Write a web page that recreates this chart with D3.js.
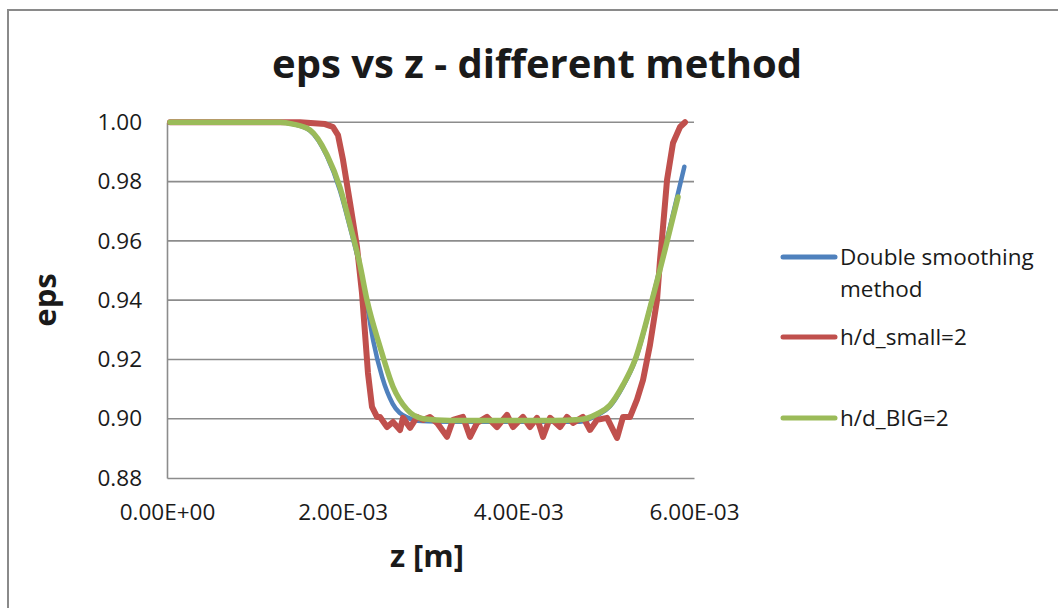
<!DOCTYPE html>
<html>
<head>
<meta charset="utf-8">
<script src="https://cdn.jsdelivr.net/npm/d3@7"></script>
<style>
  html, body { margin: 0; padding: 0; background: #fff; }
  svg { display: block; }
  text { font-family: "Open Sans", "Noto Sans", sans-serif; fill: #1a1a1a; }
</style>
</head>
<body>
<script>
// z positions are in millimetres (scaled to metres when plotted); eps is dimensionless
const blueZ   = [0.034, 0.717, 1.287, 1.435, 1.628, 1.822, 1.970, 2.084, 2.197, 2.277, 2.350, 2.450, 2.570, 2.730, 2.900, 3.200, 3.600, 4.000, 4.400, 4.700, 4.900, 5.044, 5.192, 5.328, 5.522, 5.700, 5.890];
const blueEps = [1.000, 1.000, 1.000, 0.9994, 0.9972, 0.9885, 0.977, 0.9645, 0.951, 0.9385, 0.926, 0.914, 0.905, 0.9005, 0.8992, 0.899, 0.899, 0.899, 0.899, 0.899, 0.9012, 0.9042, 0.911, 0.9195, 0.940, 0.9615, 0.985];

const redZ   = [0.034, 1.514, 1.799, 1.890, 1.947, 2.004, 2.084, 2.163, 2.220, 2.254, 2.288, 2.334, 2.391,
                2.425, 2.505, 2.573, 2.653, 2.687, 2.767, 2.847, 2.915, 2.994, 3.074, 3.188, 3.256, 3.370, 3.450,
                3.530, 3.643, 3.757, 3.871, 3.939, 4.053, 4.133, 4.213, 4.281, 4.361, 4.475, 4.554, 4.623, 4.736,
                4.816, 4.896, 5.010, 5.124, 5.192, 5.272, 5.351, 5.420, 5.499, 5.579, 5.613, 5.647, 5.693, 5.761, 5.841, 5.898];
const redEps = [1.000, 1.000, 0.9994, 0.9984, 0.9957, 0.9873, 0.9728, 0.958, 0.9424, 0.929, 0.9154, 0.904, 0.9006,
                0.9006, 0.8972, 0.8989, 0.8962, 0.9003, 0.8969, 0.9006, 0.8996, 0.9006, 0.8986, 0.8939, 0.8996, 0.9006, 0.8939,
                0.8986, 0.9006, 0.8972, 0.9013, 0.8972, 0.9006, 0.8972, 0.9003, 0.8939, 0.9003, 0.8972, 0.9006, 0.8986, 0.9006,
                0.8962, 0.8996, 0.9003, 0.8935, 0.9006, 0.9006, 0.9064, 0.9131, 0.9249, 0.940, 0.9535, 0.9646, 0.9805, 0.993, 0.9984, 1.000];

const greenZ   = [0.034, 0.717, 1.287, 1.435, 1.628, 1.822, 1.970, 2.084, 2.197, 2.277, 2.425, 2.573, 2.733, 2.915, 3.222, 3.600, 4.000, 4.400, 4.702, 4.896, 5.044, 5.192, 5.328, 5.522, 5.670, 5.818];
const greenEps = [1.000, 1.000, 1.000, 0.9994, 0.9974, 0.989, 0.978, 0.9654, 0.9519, 0.940, 0.9243, 0.9108, 0.9031, 0.9000, 0.8994, 0.8994, 0.8994, 0.8994, 0.8997, 0.9016, 0.9046, 0.9114, 0.9198, 0.940, 0.957, 0.9748];

const seriesNames  = ["Double smoothing method", "h/d_small=2", "h/d_BIG=2"];
const seriesColors = ["#4F81BD", "#C0504D", "#9BBB59"];

const xTicks      = [0, 0.002, 0.004, 0.006];
const xTickLabels = ["0.00E+00", "2.00E-03", "4.00E-03", "6.00E-03"];
const yTicks      = [0.88, 0.90, 0.92, 0.94, 0.96, 0.98, 1.00];

const W = 1058, H = 608;
const plot = { left: 167, right: 694, top: 122.3, bottom: 478 };

const svg = d3.select("body").append("svg").attr("width", W).attr("height", H);

// chart frame
svg.append("rect")
  .attr("x", 8).attr("y", 10).attr("width", W + 20).attr("height", H + 20)
  .attr("fill", "none").attr("stroke", "#8a8a8a").attr("stroke-width", 2);

const x = d3.scaleLinear().domain([0, 0.006]).range([plot.left, plot.right]);
const y = d3.scaleLinear().domain([0.88, 1.00]).range([plot.bottom, plot.top]);

// horizontal gridlines
svg.append("g").selectAll("line").data(yTicks.filter(t => t > 0.88)).join("line")
  .attr("x1", plot.left).attr("x2", plot.right)
  .attr("y1", d => y(d)).attr("y2", d => y(d))
  .attr("stroke", "#8c8c8c").attr("stroke-width", 1.6);

// y axis
const yAxis = svg.append("g").attr("transform", `translate(${plot.left},0)`)
  .call(d3.axisLeft(y).tickValues(yTicks).tickFormat(d3.format(".2f")).tickSize(0).tickPadding(25));
yAxis.select(".domain").attr("stroke", "#8c8c8c").attr("stroke-width", 1.6);
yAxis.selectAll("text").attr("font-size", 22.5).attr("fill", "#1a1a1a")
  .style("font-family", '"Open Sans", sans-serif');

// x axis
const xAxis = svg.append("g").attr("transform", `translate(0,${plot.bottom})`)
  .call(d3.axisBottom(x).tickValues(xTicks).tickFormat((d, i) => xTickLabels[i]).tickSize(0).tickPadding(26));
xAxis.select(".domain").attr("stroke", "#8c8c8c").attr("stroke-width", 1.6);
xAxis.selectAll("text").attr("font-size", 22.5).attr("fill", "#1a1a1a")
  .style("font-family", '"Open Sans", sans-serif');

// series lines
const line = d3.line().x(d => x(d[0] * 1e-3)).y(d => y(d[1]));
const series = [
  d3.zip(blueZ, blueEps),
  d3.zip(redZ, redEps),
  d3.zip(greenZ, greenEps)
];
const curves = [d3.curveMonotoneX, d3.curveLinear, d3.curveMonotoneX];
const widths = [4.5, 6, 5.5];
series.forEach((s, i) => {
  svg.append("path").datum(s)
    .attr("d", line.curve(curves[i])(s))
    .attr("fill", "none")
    .attr("stroke", seriesColors[i])
    .attr("stroke-width", widths[i])
    .attr("stroke-linejoin", "round")
    .attr("stroke-linecap", "round");
});

// title
svg.append("text")
  .attr("x", 537).attr("y", 78).attr("text-anchor", "middle")
  .attr("font-size", 40).attr("font-weight", "bold")
  .text("eps vs z - different method");

// axis titles
svg.append("text")
  .attr("transform", "translate(56,300) rotate(-90)")
  .attr("text-anchor", "middle")
  .attr("font-size", 31).attr("font-weight", "bold")
  .text("eps");
svg.append("text")
  .attr("x", 427).attr("y", 567).attr("text-anchor", "middle")
  .attr("font-size", 31).attr("font-weight", "bold")
  .text("z [m]");

// legend
const legendRows = [
  { y: 257, lines: ["Double smoothing", "method"] },
  { y: 337, lines: ["h/d_small=2"] },
  { y: 418, lines: ["h/d_BIG=2"] }
];
const legend = svg.append("g");
legendRows.forEach((r, i) => {
  legend.append("line")
    .attr("x1", 783).attr("x2", 835).attr("y1", r.y).attr("y2", r.y)
    .attr("stroke", seriesColors[i]).attr("stroke-width", 5).attr("stroke-linecap", "round");
  const t = legend.append("text").attr("x", 840).attr("y", r.y + 8).attr("font-size", 22.5);
  r.lines.forEach((l, j) => t.append("tspan").attr("x", 840).attr("dy", j === 0 ? 0 : 32).text(l));
});
</script>
</body>
</html>
